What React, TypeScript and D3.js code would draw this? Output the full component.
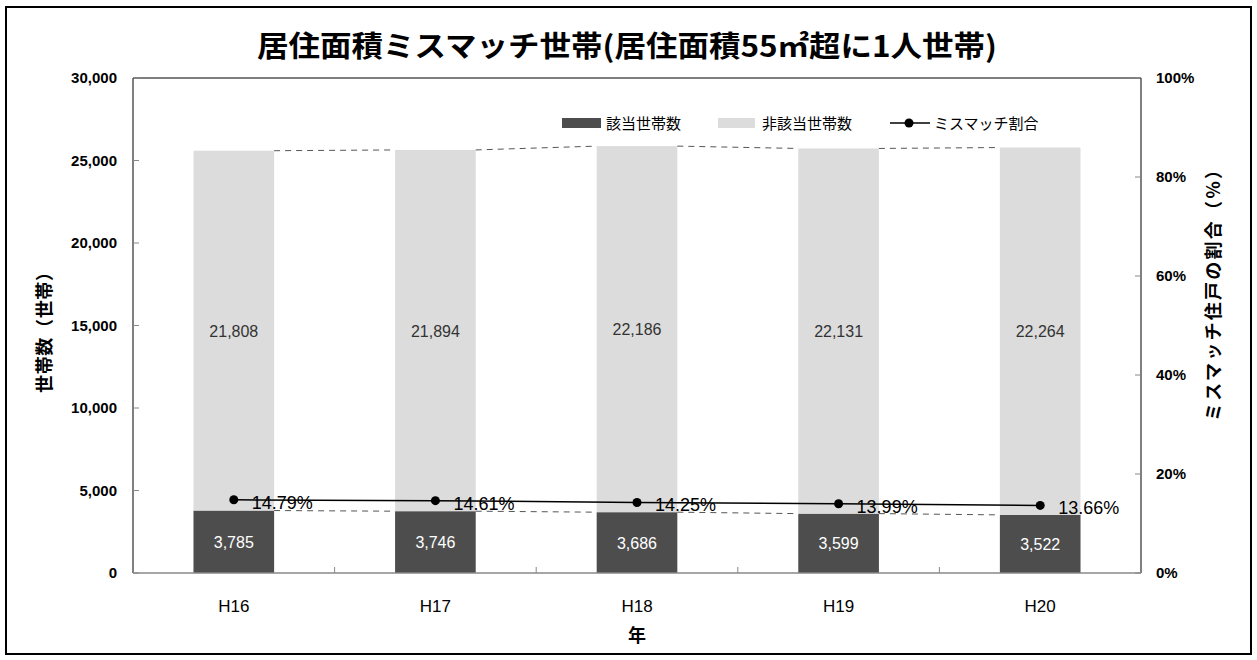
import React from "react";
import * as d3 from "d3";

const categories = ["H16", "H17", "H18", "H19", "H20"];
const matchedHouseholds = [3785, 3746, 3686, 3599, 3522];
const otherHouseholds = [21808, 21894, 22186, 22131, 22264];
const mismatchRatio = [14.79, 14.61, 14.25, 13.99, 13.66];
const leftTicks = [0, 5000, 10000, 15000, 20000, 25000, 30000];
const rightTicks = [0, 20, 40, 60, 80, 100];

const W = 1257, H = 660;
const plot = { left: 133, right: 1141, top: 78, bottom: 573 };
const FONT = "'Liberation Sans', Arial, 'Noto Sans CJK JP', sans-serif";
const JFONT = "'Noto Sans CJK JP', 'Liberation Sans', sans-serif";
const DARK = "#4d4d4d";
const LIGHT = "#dcdcdc";

export default function App() {
  const x = d3.scaleBand<string>().domain(categories).range([plot.left, plot.right]).paddingInner(0.6).paddingOuter(0.3);
  const band = d3.scaleBand<string>().domain(categories).range([plot.left, plot.right]);
  const y = d3.scaleLinear().domain([0, 30000]).range([plot.bottom, plot.top]);
  const yr = d3.scaleLinear().domain([0, 100]).range([plot.bottom, plot.top]);
  const bw = x.bandwidth();
  const fmt = d3.format(",");
  const line = d3
    .line<number>()
    .x((_, i) => band(categories[i])! + band.bandwidth() / 2)
    .y((d) => yr(d));

  const totals = categories.map((_, i) => matchedHouseholds[i] + otherHouseholds[i]);

  return (
    <svg width={W} height={H} style={{ position: "absolute", left: 0, top: 0 }} fontFamily={FONT}>
      <rect x={0} y={0} width={W} height={H} fill="#fff" />
      <rect x={6} y={7} width={1245} height={647} fill="none" stroke="#000" strokeWidth={2} />
      <text x={257} y={57} fontFamily={JFONT} fontWeight="bold" fontSize={29} textLength={740} lengthAdjust="spacingAndGlyphs">
        居住面積ミスマッチ世帯(居住面積55㎡超に1人世帯)
      </text>

      {/* bars */}
      {categories.map((c, i) => (
        <g key={c}>
          <rect x={x(c)} y={y(matchedHouseholds[i])} width={bw} height={plot.bottom - y(matchedHouseholds[i])} fill={DARK} />
          <rect x={x(c)} y={y(totals[i])} width={bw} height={y(matchedHouseholds[i]) - y(totals[i])} fill={LIGHT} />
          <text x={x(c)! + bw / 2} y={(y(totals[i]) + y(matchedHouseholds[i])) / 2 + 6} textAnchor="middle" fontSize={16} fill="#333">
            {fmt(otherHouseholds[i])}
          </text>
          <text x={x(c)! + bw / 2} y={(plot.bottom + y(matchedHouseholds[i])) / 2 + 6} textAnchor="middle" fontSize={16} fill="#fff">
            {fmt(matchedHouseholds[i])}
          </text>
        </g>
      ))}

      {/* series lines */}
      {categories.slice(0, -1).map((c, i) => {
        const n = categories[i + 1];
        return (
          <g key={"sl" + c} stroke="#555" strokeWidth={1} strokeDasharray="6,5">
            <line x1={x(c)! + bw} x2={x(n)} y1={y(totals[i])} y2={y(totals[i + 1])} />
            <line x1={x(c)! + bw} x2={x(n)} y1={y(matchedHouseholds[i])} y2={y(matchedHouseholds[i + 1])} />
          </g>
        );
      })}

      {/* plot frame */}
      <line x1={plot.left} x2={plot.right} y1={plot.top} y2={plot.top} stroke="#000" />
      <line x1={plot.left} x2={plot.left} y1={plot.top} y2={plot.bottom} stroke="#000" />
      <line x1={plot.right} x2={plot.right} y1={plot.top} y2={plot.bottom} stroke="#000" />
      <line x1={plot.left} x2={plot.right} y1={plot.bottom} y2={plot.bottom} stroke="#888" strokeWidth={1.5} />

      {/* left axis */}
      {leftTicks.map((t) => (
        <g key={"l" + t}>
          <line x1={plot.left} x2={plot.left + 6} y1={y(t)} y2={y(t)} stroke="#888" />
          <text x={117} y={y(t) + 5} textAnchor="end" fontSize={15} fontWeight="bold">
            {fmt(t)}
          </text>
        </g>
      ))}
      {/* right axis */}
      {rightTicks.map((t) => (
        <g key={"r" + t}>
          <line x1={plot.right - 6} x2={plot.right} y1={yr(t)} y2={yr(t)} stroke="#888" />
          <text x={1156} y={yr(t) + 5} fontSize={15} fontWeight="bold">
            {t + "%"}
          </text>
        </g>
      ))}
      {/* x axis */}
      {categories.map((c, i) => (
        <g key={"x" + c}>
          {i > 0 && <line x1={band(c)} x2={band(c)} y1={plot.bottom} y2={plot.bottom - 6} stroke="#888" />}
          <text x={band(c)! + band.bandwidth() / 2} y={612} textAnchor="middle" fontSize={17}>
            {c}
          </text>
        </g>
      ))}
      <text x={637} y={642} textAnchor="middle" fontFamily={JFONT} fontWeight="bold" fontSize={18}>
        年
      </text>
      <text transform="translate(51,393) rotate(-90)" fontFamily={JFONT} fontWeight="bold" fontSize={18} textLength={130} lengthAdjust="spacing">
        世帯数（世帯）
      </text>
      <text transform="translate(1220,421) rotate(-90)" fontFamily={JFONT} fontWeight="bold" fontSize={18} textLength={260} lengthAdjust="spacing">
        ミスマッチ住戸の割合（%）
      </text>

      {/* ratio line */}
      <path d={line(mismatchRatio) || ""} fill="none" stroke="#000" strokeWidth={1.5} />
      {mismatchRatio.map((v, i) => {
        const cx = band(categories[i])! + band.bandwidth() / 2;
        return (
          <g key={"p" + i}>
            <circle cx={cx} cy={yr(v)} r={4.5} fill="#000" />
            <text x={cx + 18} y={yr(v) + 9} fontSize={18} fill="#000">
              {v.toFixed(2) + "%"}
            </text>
          </g>
        );
      })}

      {/* legend */}
      <rect x={562} y={118} width={39} height={10} fill={DARK} />
      <text x={606} y={129} fontFamily={JFONT} fontSize={15}>該当世帯数</text>
      <rect x={718} y={118} width={37} height={10} fill={LIGHT} />
      <text x={762} y={129} fontFamily={JFONT} fontSize={15}>非該当世帯数</text>
      <line x1={890} x2={930} y1={123} y2={123} stroke="#000" strokeWidth={1.5} />
      <circle cx={909} cy={123} r={4.5} fill="#000" />
      <text x={934} y={129} fontFamily={JFONT} fontSize={15}>ミスマッチ割合</text>
    </svg>
  );
}
